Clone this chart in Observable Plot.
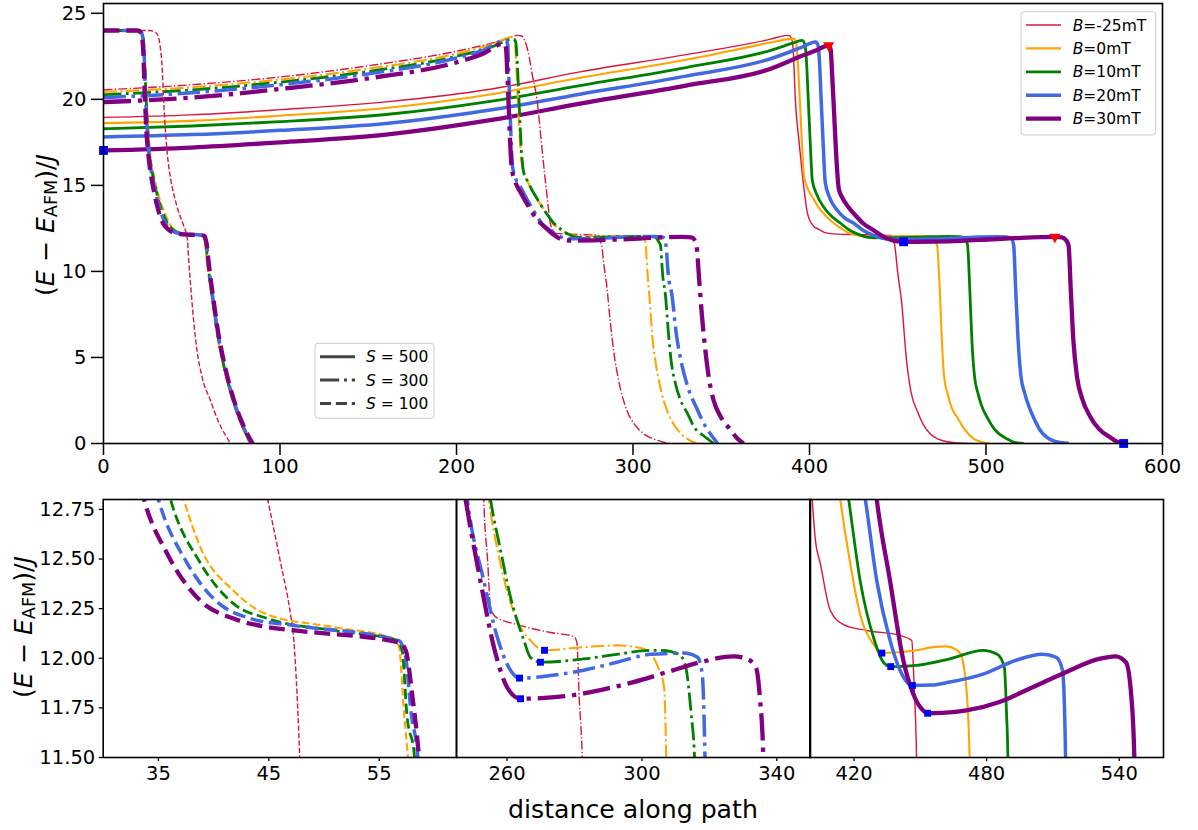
<!DOCTYPE html>
<html><head><meta charset="utf-8">
<script src="https://cdn.jsdelivr.net/npm/d3@7"></script>
<script src="https://cdn.jsdelivr.net/npm/@observablehq/plot@0.6"></script>
<style>
body{margin:0;background:#fff;}
#root{position:relative;width:1198px;height:830px;font-family:"DejaVu Sans",sans-serif;overflow:hidden;}
</style></head><body><div id="root"></div>
<script>
// ---------------- data ----------------
const B_LABELS = ["-25", "0", "10", "20", "30"];
const S_VALUES = [500, 300, 100];

// S = 500
const s500_m25 = [[0,18.95],[50,19.1],[100,19.4],[160,19.85],[220,20.6],[270,21.6],[330,22.6],[378,23.5],[386,23.7],[388.3,23.72],[389.8,23.55],[390.8,22.8],[392,19.94],[394,17.6],[396,15.6],[397.5,14.3],[398.6,13.5],[400,13.0],[401.1,12.8],[402.5,12.6],[404.8,12.476],[409.3,12.24],[415.3,12.17],[425.8,12.14],[440.8,12.115],[446.1,12.09],[447.1,11.89],[448.3,11.5],[450,9.9],[452.1,8.3],[455,4.8],[457.5,3.0],[461,1.9],[464.5,1.1],[468.5,0.55],[473,0.25],[478,0.1],[485,0.03],[492,0]];
const s500_0 = [[0,18.62],[50,18.75],[100,19.05],[160,19.5],[220,20.3],[270,21.25],[330,22.3],[378,23.3],[388,23.5],[391.1,23.53],[392.3,23.35],[393.2,22.5],[394.5,20],[395.8,17.3],[396.8,15.6],[398.5,14.95],[402.4,14.2],[406,13.6],[410,13.15],[413.8,12.8],[418.3,12.476],[422.8,12.22],[428.8,12.07],[432.6,12.026],[440,12.03],[448.3,12.04],[455,12.055],[461.8,12.06],[466,12.045],[468.2,12.02],[470.5,11.89],[472.3,11.5],[473.8,9],[475,6],[476.3,3.85],[478.5,2.8],[480.5,2.1],[483.8,1.5],[488,0.8],[493,0.27],[498,0.07],[502.5,0]];
const s500_10 = [[0,18.29],[50,18.45],[100,18.7],[160,19.12],[220,19.9],[270,20.8],[330,21.85],[378,22.85],[390,23.25],[395.8,23.43],[397.2,23.25],[398.2,22.4],[399.3,20],[400.5,17.3],[401.6,15.3],[404,14.5],[408,13.74],[412.5,13.2],[417.6,12.8],[422.8,12.39],[428.8,12.106],[433.3,11.98],[436.6,11.958],[448.3,11.964],[463.3,11.997],[478.3,12.04],[484.8,12.02],[488,11.955],[489,11.72],[489.6,11.5],[490.8,9],[492,6],[493.5,3.9],[495.5,2.9],[497.5,2.2],[500.6,1.53],[505,0.8],[511.9,0.27],[516,0.07],[521.3,0]];
const s500_20 = [[0,17.81],[50,17.95],[100,18.2],[160,18.6],[220,19.4],[270,20.3],[330,21.35],[378,22.36],[395,23.0],[403.4,23.33],[404.8,23.15],[405.6,22.3],[406.6,20],[407.8,17.3],[408.9,15.2],[411,14.4],[415.7,13.55],[420,13.1],[425.1,12.8],[430.3,12.39],[436.3,12.09],[440.8,11.94],[446.4,11.863],[455,11.865],[463.3,11.88],[478.3,11.92],[493.3,11.99],[505.3,12.02],[511.5,12.005],[514.3,11.94],[515.7,11.5],[516.8,9],[518.2,6],[519.8,3.9],[522,2.9],[524.5,2.1],[527,1.5],[530.5,0.8],[534.5,0.35],[540,0.1],[547,0]];
const s500_30 = [[0,17.03],[50,17.2],[100,17.5],[160,17.95],[220,18.8],[270,19.75],[330,20.8],[378,21.78],[395,22.5],[404,22.85],[410.9,23.14],[412,22.9],[412.8,21.5],[413.8,19.5],[415,17],[416.6,14.8],[418.5,14.3],[422,13.75],[426.9,13.16],[430.3,12.8],[436.3,12.39],[442.3,11.99],[446.8,11.82],[451.3,11.737],[453.3,11.723],[460,11.725],[470.8,11.737],[485.8,11.78],[500.8,11.854],[515.8,11.93],[530.8,11.997],[538.3,12.01],[543,11.98],[545.5,11.8],[546.8,11.5],[548,9],[549.5,6],[551.6,3.85],[554.5,2.6],[559.2,1.53],[564,0.85],[570.5,0.35],[574,0.12],[578,0]];

// S = 300
const s300_m25 = [[0,20.55],[50,20.85],[100,21.3],[150,21.95],[200,22.8],[225,23.4],[235,23.72],[237,23.68],[238.5,23.45],[240.5,22.8],[243,21.4],[245.7,19.9],[248,17.6],[250,15.6],[251.5,14.2],[252.5,13.3],[253.1,12.8],[254.2,12.5],[255.1,12.26],[256.5,12.21],[263,12.17],[272.9,12.13],[279.8,12.11],[280.7,12.08],[281.4,11.8],[282.3,11.5],[283.5,10.4],[285.2,9.1],[287,7.2],[289,5.4],[292,3.6],[296.6,1.9],[301,1.1],[306,0.57],[312,0.25],[317.4,0.08],[321,0]];
const s300_0 = [[0,20.43],[50,20.7],[100,21.15],[150,21.78],[200,22.65],[220,23.2],[231.5,23.62],[232.8,23.45],[233.8,22.2],[235,19.5],[236.3,17],[237.5,15.9],[240,15.29],[245,14.3],[251.3,13.35],[254.6,12.8],[258,12.48],[263,12.19],[266.9,12.09],[271.1,12.04],[282.7,12.056],[292.6,12.065],[300.5,12.048],[304.8,11.955],[306.6,11.85],[307.2,11.5],[308.3,9.8],[309.7,8],[310.8,6.4],[313,4.6],[315,3.5],[317.4,2.5],[321,1.5],[326.9,0.6],[331,0.25],[336.3,0]];
const s300_10 = [[0,20.27],[50,20.55],[100,21.0],[150,21.62],[200,22.5],[220,23.05],[232.4,23.5],[233.6,23.3],[234.5,22],[235.6,19.5],[236.8,17],[238,15.8],[240.5,15.2],[245.5,14.25],[251.8,13.25],[255.1,12.8],[258,12.55],[261,12.31],[265,12.09],[266.9,12.005],[269.9,11.98],[282.7,11.997],[292.6,12.02],[302.5,12.04],[306,12.04],[311,12.02],[313,11.955],[314.6,11.72],[315.6,11.5],[316.8,9.8],[318.4,8.6],[320,6.5],[321.5,4.9],[324,3.5],[327,2.5],[330.6,1.8],[335,0.9],[340,0.45],[345.7,0]];
const s300_20 = [[0,20.1],[50,20.38],[100,20.85],[150,21.48],[200,22.4],[215,22.85],[227.8,23.43],[229,23.2],[229.6,21.5],[230.3,19.5],[231,17.5],[231.8,16.06],[233.5,15.4],[236.3,14.9],[241,14.0],[245.7,13.2],[248.2,12.8],[253.1,12.39],[257.1,12.106],[261,11.94],[263.7,11.9],[272.9,11.913],[282.7,11.94],[292.6,11.98],[302.5,12.02],[312.3,12.026],[316.5,12.005],[317.9,11.92],[318.7,11.5],[320,9.8],[322.1,8.6],[324.5,6.4],[327,4.9],[331,3.3],[336.3,2.0],[341,1.0],[345,0.4],[348,0]];
const s300_30 = [[0,19.84],[50,20.1],[100,20.6],[150,21.22],[200,22.15],[215,22.65],[226.6,23.24],[228,23.0],[228.8,21.5],[229.6,19.5],[230.4,17.5],[231.3,16],[233,15.3],[236.3,14.6],[241,13.75],[245,13.1],[247.7,12.8],[252.1,12.39],[256.1,12.056],[260,11.854],[264,11.796],[277.8,11.81],[287.7,11.84],[297.5,11.88],[307.4,11.93],[317.3,11.98],[327.2,12.01],[331.1,11.997],[333.8,11.955],[335,11.8],[336,11.5],[337.5,9.5],[339,7.5],[341,5.4],[343,3.8],[345.7,2.5],[350,1.5],[355.2,0.8],[359,0.3],[362.7,0]];

// S = 100
const s100_m25 = [[0,24],[26,24],[29.5,23.9],[31.2,23.6],[32.2,23],[33.2,21.9],[34.1,19.9],[36,17],[38,15.4],[39.8,14.5],[41.7,13.75],[43.6,13.15],[44.9,12.8],[46,12.5],[47,12.21],[47.2,12.13],[47.8,11.5],[48.3,10.6],[49.3,9.3],[51,7.2],[53,5.4],[56,3.8],[60.6,2.5],[65,1.3],[69,0.5],[72,0]];
const s100_0 = [[0,24],[20.5,24],[22.2,23.8],[23.2,23],[24.2,20.5],[25.3,18.3],[26.5,16.8],[28.5,15.6],[31,14.5],[33.5,13.7],[35.5,13.2],[37.3,12.8],[38.8,12.56],[41.8,12.34],[44.9,12.22],[50.9,12.157],[56.3,12.1],[56.8,12.056],[57.25,11.72],[57.6,11.5],[58.5,10.6],[60,9.4],[61.5,8.3],[64,6.5],[67,4.9],[70,3.6],[74,2.2],[77.6,1.2],[80.5,0.5],[83,0]];
const s100_10 = [[0,24],[20.3,24],[22,23.8],[23,23],[24,20.4],[25.1,18.2],[26.3,16.6],[28.3,15.4],[30.8,14.3],[33,13.55],[34.8,13.1],[36.1,12.8],[38.8,12.48],[41.8,12.275],[44.9,12.2],[50.9,12.14],[56.65,12.09],[57.1,12.03],[57.5,11.72],[58.2,11.5],[59,10.6],[60.4,9.4],[61.9,8.3],[64.4,6.5],[67.4,4.9],[70.4,3.6],[74.4,2.2],[78,1.2],[81,0.5],[83.5,0]];
const s100_20 = [[0,24],[20,24],[21.8,23.8],[22.8,23],[23.8,20.3],[24.9,18.0],[26,16.5],[27.5,15.6],[29.5,14.6],[31.5,13.75],[33.5,13.15],[35,12.8],[37.6,12.48],[40,12.3],[43.35,12.2],[47.3,12.165],[56.75,12.09],[57.35,12.02],[57.9,11.72],[58.5,11.5],[59.3,10.6],[60.7,9.4],[62.2,8.3],[64.7,6.5],[67.7,4.9],[70.7,3.6],[74.7,2.2],[78.3,1.2],[81.3,0.5],[84,0]];
const s100_30 = [[0,24],[19.5,24],[21.4,23.8],[22.4,23],[23.4,20.2],[24.4,18],[25.2,17.0],[26.3,16.0],[28.3,14.8],[30.4,13.8],[32.3,13.15],[33.7,12.8],[35.8,12.527],[38.8,12.29],[41.8,12.2],[44.9,12.157],[47.9,12.137],[56.8,12.08],[57.4,12.04],[58,11.81],[58.6,11.5],[59.5,10.6],[60.9,9.4],[62.4,8.3],[64.9,6.5],[67.9,4.9],[70.9,3.6],[74.9,2.2],[78.6,1.2],[81.8,0.5],[84.5,0]];

// markers
const topSquares = [[0,17.03],[453.3,11.723],[578,0]];
const topTriangles = [[410.9,23.14],[539,12.01]];
const midSquares = [[271.1,12.04],[269.9,11.98],[263.7,11.9],[264,11.796]];
const rightSquares = [[432.6,12.026],[436.6,11.958],[446.4,11.863],[453.3,11.723]];

// ticks
const topXTicks = [0,100,200,300,400,500,600];
const topYTicks = [0,5,10,15,20,25];
const zoomYTicks = [11.5,11.75,12,12.25,12.5,12.75];
const zoom1XTicks = [35,45,55];
const zoom2XTicks = [260,300,340];
const zoom3XTicks = [420,480,540];

// ---------------- styles ----------------
const COLORS = ["crimson","orange","green","royalblue","purple"];
const WIDTHS = [1.4,2.1,2.8,3.5,4.3];
const DASH = {
  500: w => null,
  300: w => [6.4*w,1.6*w,1*w,1.6*w].join(","),
  100: w => [3.7*w,1.6*w].join(",")
};
const CURVES = {
  500: [s500_m25,s500_0,s500_10,s500_20,s500_30],
  300: [s300_m25,s300_0,s300_10,s300_20,s300_30],
  100: [s100_m25,s100_0,s100_10,s100_20,s100_30]
};
const X = d => d[0], Y = d => d[1];
const FONT = "'DejaVu Sans', sans-serif";
const TICK_FS = 19.5;

function lineMarks() {
  const marks = [];
  for (const S of S_VALUES) {
    CURVES[S].forEach((pts, i) => {
      const opts = {x: X, y: Y, stroke: COLORS[i], strokeWidth: WIDTHS[i],
        curve: "monotone-x", clip: true, strokeLinejoin: "round", strokeLinecap: "butt"};
      const da = DASH[S](WIDTHS[i]);
      if (da) opts.strokeDasharray = da;
      marks.push(Plot.line(pts, opts));
    });
  }
  return marks;
}

const rootEl = document.getElementById("root");
function place(svg, left, topPx) {
  svg.style.position = "absolute";
  svg.style.left = left + "px";
  svg.style.top = topPx + "px";
  rootEl.appendChild(svg);
}
const baseStyle = {background: "transparent", fontFamily: FONT, fontSize: TICK_FS + "px", color: "black", overflow: "visible"};

// ---------------- top panel ----------------
const topPlot = Plot.plot({
  width: 1198, height: 500,
  marginLeft: 103, marginRight: 36, marginTop: 3, marginBottom: 57,
  x: {domain: [0, 600]},
  y: {domain: [0, 25.57]},
  style: baseStyle,
  marks: [
    ...lineMarks(),
    Plot.dot(topSquares, {x: X, y: Y, symbol: "square", fill: "blue", r: 5}),
    Plot.dot(topTriangles, {x: X, y: Y, symbol: "triangle", rotate: 180, fill: "red", r: 4.1}),
    Plot.axisX({ticks: topXTicks, tickSize: 12, tickPadding: 4, label: null, strokeWidth: 1.5, fontSize: TICK_FS, tickFormat: d => String(d)}),
    Plot.axisY({ticks: topYTicks, tickSize: 12, tickPadding: 5, label: null, strokeWidth: 1.5, fontSize: TICK_FS, tickFormat: d => String(d)}),
    Plot.frame({stroke: "black", strokeWidth: 1.6})
  ]
});
place(topPlot, 0, 0);

// ---------------- zoom panels ----------------
function zoomPanel(xdom, ml, mr, xticks, showY, squares) {
  const marks = [...lineMarks()];
  if (squares) marks.push(Plot.dot(squares, {x: X, y: Y, symbol: "square", fill: "blue", r: 3.9}));
  marks.push(Plot.axisX({ticks: xticks, tickSize: 4, tickPadding: 5, label: null, strokeWidth: 1.3, fontSize: TICK_FS, tickFormat: d => String(d)}));
  if (showY) marks.push(Plot.axisY({ticks: zoomYTicks, tickSize: 4, tickPadding: 4, label: null, strokeWidth: 1.3, fontSize: TICK_FS, tickFormat: d3.format(".2f")}));
  marks.push(Plot.frame({stroke: "black", strokeWidth: 1.6}));
  return Plot.plot({
    width: 1198, height: 350,
    marginLeft: ml, marginRight: mr, marginTop: 19, marginBottom: 73,
    x: {domain: xdom},
    y: {domain: [11.5, 12.8], axis: showY ? undefined : null},
    style: baseStyle,
    marks
  });
}
place(zoomPanel([30, 62], 102.7, 1198 - 456, zoom1XTicks, true, null), 0, 480);
place(zoomPanel([245, 350], 456, 1198 - 810, zoom2XTicks, false, midSquares), 0, 480);
place(zoomPanel([400, 560], 809.3, 1198 - 1163, zoom3XTicks, false, rightSquares), 0, 480);

// ---------------- titles & legends ----------------
const NS = "http://www.w3.org/2000/svg";
function ylabel(xb, yc) {
  return `<text transform="translate(${xb},${yc}) rotate(-90)" text-anchor="middle" font-size="25.2" font-family="${FONT}">(<tspan font-style="italic">E</tspan> − <tspan font-style="italic">E</tspan><tspan font-size="17.6" dy="3">AFM</tspan><tspan dy="-3">)/</tspan><tspan font-style="italic">J</tspan></text>`;
}
let bLegend = `<rect x="1021" y="11.7" width="134.7" height="123.3" rx="3" fill="white" fill-opacity="0.8" stroke="#cccccc" stroke-width="1"/>`;
B_LABELS.forEach((b, i) => {
  const cy = 25 + i * 23.4;
  bLegend += `<line x1="1026" x2="1061" y1="${cy}" y2="${cy}" stroke="${COLORS[i]}" stroke-width="${WIDTHS[i]}"/>`;
  bLegend += `<text x="1072.7" y="${cy + 5.6}" font-size="15.5" font-family="${FONT}"><tspan font-style="italic">B</tspan>=${b}mT</text>`;
});
let sLegend = `<rect x="315" y="343.3" width="119" height="75" rx="3" fill="white" fill-opacity="0.8" stroke="#cccccc" stroke-width="1"/>`;
S_VALUES.forEach((s, i) => {
  const cy = 356.7 + i * 23.4;
  const da = DASH[s](3);
  sLegend += `<line x1="320" x2="355" y1="${cy}" y2="${cy}" stroke="#444444" stroke-width="3" ${da ? `stroke-dasharray="${da}"` : ""}/>`;
  sLegend += `<text x="366" y="${cy + 5.6}" font-size="15.5" font-family="${FONT}"><tspan font-style="italic">S</tspan> = ${s}</text>`;
});
const overlay = document.createElementNS(NS, "svg");
overlay.setAttribute("width", 1198);
overlay.setAttribute("height", 830);
overlay.style.position = "absolute";
overlay.style.left = "0px";
overlay.style.top = "0px";
overlay.innerHTML = ylabel(53.5, 225) + ylabel(32, 627) +
  `<text x="633" y="818" text-anchor="middle" font-size="25.2" font-family="${FONT}">distance along path</text>` +
  bLegend + sLegend;
rootEl.appendChild(overlay);
</script></body></html>
